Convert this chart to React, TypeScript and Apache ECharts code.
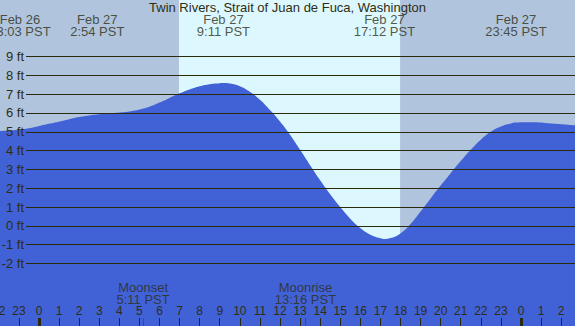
import React, { useEffect, useRef } from "react";
import * as echarts from "echarts";

// ---------- data ----------
const TITLE = "Twin Rivers, Strait of Juan de Fuca, Washington";

// tide curve (hours from Feb 27 00:00 PST, feet)
const tideHours = [
  -2.05, -1.5, -1.0, -0.5, 0, 0.5, 1.0, 1.5, 2.0, 2.5, 3.0, 3.5, 4.0, 4.5, 5.0,
  5.5, 6.0, 6.5, 7.0, 7.5, 8.0, 8.5, 9.0, 9.2, 9.5, 10.0, 10.5, 11.0, 11.5,
  12.0, 12.5, 13.0, 13.5, 14.0, 14.5, 15.0, 15.5, 16.0, 16.5, 17.0, 17.2,
  17.5, 18.0, 18.5, 19.0, 19.5, 20.0, 20.5, 21.0, 21.5, 22.0, 22.5, 23.0,
  23.5, 23.75, 24.5, 25.5, 26.8,
];
const tideFeet = [
  5.03, 5.07, 5.11, 5.18, 5.3, 5.42, 5.53, 5.66, 5.78, 5.87, 5.93, 5.98, 6.02,
  6.08, 6.18, 6.33, 6.55, 6.8, 7.04, 7.25, 7.42, 7.53, 7.58, 7.59, 7.56, 7.42,
  7.12, 6.7, 6.16, 5.55, 4.84, 4.04, 3.22, 2.42, 1.68, 1.0, 0.38, -0.12, -0.47,
  -0.66, -0.7, -0.65, -0.4, 0.1, 0.76, 1.46, 2.14, 2.8, 3.44, 4.04, 4.58, 5.0,
  5.28, 5.44, 5.49, 5.5, 5.44, 5.33,
];

// tide events shown at top
const eventDays = ["Feb 26", "Feb 27", "Feb 27", "Feb 27", "Feb 27"];
const eventTimes = ["23:03", "2:54", "9:11", "17:12", "23:45"];

// moon events shown at bottom
const moonNames = ["Moonset", "Moonrise"];
const moonTimes = ["5:11", "13:16"];

// daylight (hours)
const SUNRISE = 6.97;
const SUNSET = 17.98;

// levels (ft) with grid lines
const levelFeet = [-2, -1, 0, 1, 2, 3, 4, 5, 6, 7, 8, 9];
// hour ticks
const hourTicks = [
  -2, -1, 0, 1, 2, 3, 4, 5, 6, 7, 8, 9, 10, 11, 12, 13, 14, 15, 16, 17, 18,
  19, 20, 21, 22, 23, 24, 25, 26,
];
const midnightTicks = [0, 24];

// ---------- layout / style ----------
const X_MIN = -2.042;
const X_MAX = 26.79;
const Y_MIN = -5.32;
const Y_MAX = 12.0;

const FONT = "Liberation Sans";
const TEXT = "#2e2e12";
const LINE = "#2a2a0c";
const NIGHT = "#b0c4de";
const DAY = "#ddf7ff";
const WATER = "#4161d6";

const toHour = (t: string, day: string) => {
  const [h, m] = t.split(":").map(Number);
  return h + m / 60 + (day === "Feb 26" ? -24 : 0);
};

export default function App() {
  const ref = useRef<HTMLDivElement>(null);

  useEffect(() => {
    if (!ref.current) return;
    const chart = echarts.init(ref.current, undefined, { renderer: "svg" });

    const eventData = eventTimes.map((t, i) => ({
      name: `${eventDays[i]}\n${t} PST`,
      value: [toHour(t, eventDays[i]), Y_MAX],
    }));
    const moonHours = moonTimes.map((t) => toHour(t, "Feb 27"));
    const moonData = moonTimes.map((t, i) => ({
      name: `${moonNames[i]}\n${t} PST`,
      value: [moonHours[i], Y_MIN],
    }));

    const gridBase = { top: 0, bottom: 0, containLabel: false, outerBoundsMode: "none" };

    const tickAxis = (values: number[], color: string, width: number) => ({
      gridIndex: 0,
      type: "value",
      min: X_MIN,
      max: X_MAX,
      position: "bottom",
      z: 10,
      axisLine: { show: false, onZero: false },
      splitLine: { show: false },
      axisLabel: { show: false },
      axisTick: {
        show: true,
        inside: true,
        length: 8,
        customValues: values,
        lineStyle: { color, width },
      },
    });

    const option: any = {
      animation: false,
      backgroundColor: NIGHT,
      title: {
        text: TITLE,
        left: "center",
        top: 1,
        padding: 0,
        textStyle: { fontFamily: FONT, fontSize: 13, fontWeight: "normal", color: TEXT },
      },
      grid: [
        { ...gridBase, left: -2, right: -2 },
        { ...gridBase, left: 26, right: 0 },
      ],
      xAxis: [
        {
          ...tickAxis(hourTicks, LINE, 1),
          axisLabel: {
            show: true,
            inside: true,
            margin: 9,
            customValues: hourTicks,
            formatter: (v: number) => String(((v % 24) + 24) % 24),
            fontFamily: FONT,
            fontSize: 12,
            color: TEXT,
          },
        },
        tickAxis(midnightTicks, LINE, 3),
        tickAxis(moonTimes.map((t) => toHour(t, "Feb 27")), "#ff0000", 1),
        { gridIndex: 1, type: "value", min: 0, max: 1, show: false },
      ],
      yAxis: [
        { gridIndex: 0, type: "value", min: Y_MIN, max: Y_MAX, show: false },
        { gridIndex: 1, type: "value", min: Y_MIN, max: Y_MAX, show: false },
      ],
      series: [
        {
          type: "line",
          name: "daylight",
          xAxisIndex: 0,
          yAxisIndex: 0,
          data: [],
          z: 1,
          silent: true,
          markArea: {
            silent: true,
            label: { show: false },
            itemStyle: { color: DAY },
            data: [[{ xAxis: SUNRISE }, { xAxis: SUNSET }]],
          },
        },
        {
          type: "line",
          name: "tide",
          xAxisIndex: 0,
          yAxisIndex: 0,
          z: 2,
          data: tideHours.map((h, i) => [h, tideFeet[i]]),
          smooth: 0.5,
          showSymbol: false,
          symbol: "none",
          lineStyle: { width: 0 },
          areaStyle: { color: WATER, opacity: 1, origin: "start" },
        },
        {
          type: "line",
          name: "levels",
          xAxisIndex: 3,
          yAxisIndex: 1,
          data: [],
          z: 3,
          silent: true,
          markLine: {
            silent: true,
            symbol: ["none", "none"],
            lineStyle: { color: LINE, width: 1, type: "solid" },
            label: {
              show: true,
              position: "start",
              distance: 2,
              formatter: (p: any) => `${p.value} ft`,
              fontFamily: FONT,
              fontSize: 13,
              color: TEXT,
            },
            data: levelFeet.map((v) => ({ yAxis: v })),
          },
        },
        {
          type: "scatter",
          name: "events",
          xAxisIndex: 0,
          yAxisIndex: 0,
          z: 4,
          symbolSize: 0,
          data: eventData,
          label: {
            show: true,
            position: "bottom",
            distance: 13,
            formatter: (p: any) => p.name,
            fontFamily: FONT,
            fontSize: 13,
            lineHeight: 12,
            color: TEXT,
            align: "center",
          },
        },
        {
          type: "scatter",
          name: "moon",
          xAxisIndex: 0,
          yAxisIndex: 0,
          z: 4,
          symbolSize: 0,
          data: moonData,
          label: {
            show: true,
            position: "top",
            distance: 21,
            formatter: (p: any) => p.name,
            fontFamily: FONT,
            fontSize: 13,
            lineHeight: 12,
            color: TEXT,
            align: "center",
          },
        },
      ],
    };

    chart.setOption(option);
    return () => chart.dispose();
  }, []);

  return (
    <div
      ref={ref}
      style={{ position: "fixed", left: 0, top: 0, width: 575, height: 326 }}
    />
  );
}
